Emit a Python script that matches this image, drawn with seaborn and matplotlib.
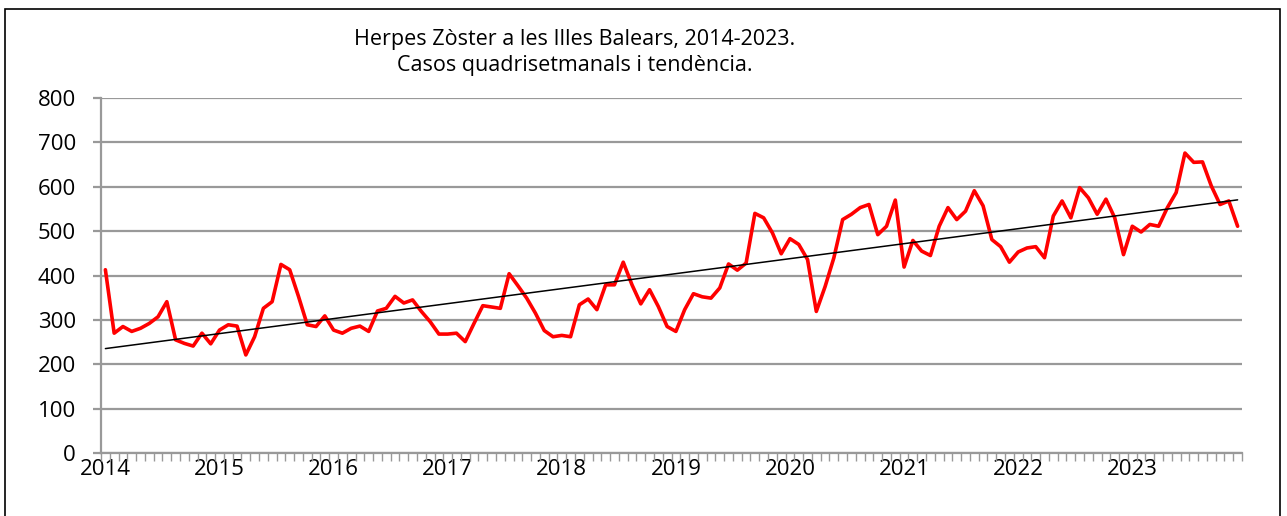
import numpy as np
import pandas as pd
import seaborn as sns
import matplotlib
matplotlib.use('Agg')
from matplotlib import pyplot as plt
from matplotlib.patches import Rectangle

# Casos quadrisetmanals (13 periodes de 4 setmanes per any), llegits del grafic
years = [2014, 2015, 2016, 2017, 2018, 2019, 2020, 2021, 2022, 2023]
c2014 = [413, 270, 285, 274, 281, 292, 307, 341, 255, 247, 241, 270, 246]
c2015 = [277, 289, 286, 221, 262, 326, 341, 425, 413, 353, 289, 285, 309]
c2016 = [277, 270, 281, 286, 274, 320, 326, 353, 338, 345, 319, 296, 268]
c2017 = [268, 270, 251, 292, 332, 329, 326, 404, 377, 349, 315, 276, 262]
c2018 = [265, 262, 334, 347, 323, 379, 379, 430, 379, 336, 368, 330, 285]
c2019 = [274, 323, 359, 352, 349, 372, 426, 412, 428, 540, 530, 496, 449]
c2020 = [483, 470, 436, 319, 375, 440, 526, 538, 553, 560, 492, 511, 570]
c2021 = [419, 479, 455, 445, 511, 553, 526, 545, 591, 557, 481, 465, 430]
c2022 = [453, 462, 465, 440, 534, 568, 530, 598, 575, 538, 572, 530, 447]
c2023 = [511, 498, 515, 511, 553, 587, 676, 655, 656, 602, 560, 568, 511]

casos = c2014 + c2015 + c2016 + c2017 + c2018 + c2019 + c2020 + c2021 + c2022 + c2023
df = pd.DataFrame({'periode': np.arange(len(casos)), 'casos': casos})

# Tendencia lineal (com la de l'Excel)
slope, intercept = np.polyfit(df['periode'], df['casos'], 1)
df['tendencia'] = intercept + slope * df['periode']

sns.set_style('white')
plt.rcParams['font.family'] = ['Open Sans', 'DejaVu Sans']
plt.rcParams['text.color'] = 'black'
plt.rcParams['xtick.labelcolor'] = 'black'
plt.rcParams['ytick.labelcolor'] = 'black'

fig = plt.figure(figsize=(12.87, 5.16), dpi=100)
ax = fig.add_axes([101 / 1287, 1 - 453 / 516, 1141 / 1287, 355 / 516])

sns.lineplot(data=df, x='periode', y='casos', color='#ff0000', linewidth=2.6, ax=ax)
sns.lineplot(data=df, x='periode', y='tendencia', color='black', linewidth=1.1, ax=ax)
ax.lines[0].set_solid_joinstyle('round')

ax.set_xlim(-0.5, len(casos) - 0.5)
ax.set_ylim(0, 800)
ax.set_yticks(range(0, 801, 100))
ax.set_xticks([13 * k for k in range(len(years))])
ax.set_xticklabels([str(y) for y in years])
ax.set_xticks(np.arange(-0.5, len(casos), 1), minor=True)
ax.grid(axis='y', color='#999999', linewidth=1.6)
ax.set_axisbelow(True)
ax.tick_params(axis='x', which='major', length=0, labelsize=16, pad=4)
ax.tick_params(axis='x', which='minor', length=6, width=1, color='#999999', bottom=True)
ax.tick_params(axis='y', length=6, width=1.6, color='#999999', labelsize=16, pad=12, left=True)
ax.set_xlabel('')
ax.set_ylabel('')
for side in ['top', 'right']:
    ax.spines[side].set_visible(False)
for side in ['left', 'bottom']:
    ax.spines[side].set_color('#999999')
    ax.spines[side].set_linewidth(1.6)

fig.text(575 / 1287, 1 - 40 / 516, 'Herpes Zòster a les Illes Balears, 2014-2023.',
         ha='center', va='center', fontsize=15.5)
fig.text(575 / 1287, 1 - 66 / 516, 'Casos quadrisetmanals i tendència.',
         ha='center', va='center', fontsize=15.5)

fig.patches.append(Rectangle((5 / 1287, -0.1), 1275 / 1287, 1.1 - 9 / 516,
                             transform=fig.transFigure, fill=False,
                             edgecolor='black', linewidth=1.2))

fig.savefig('out.png', dpi=100)
